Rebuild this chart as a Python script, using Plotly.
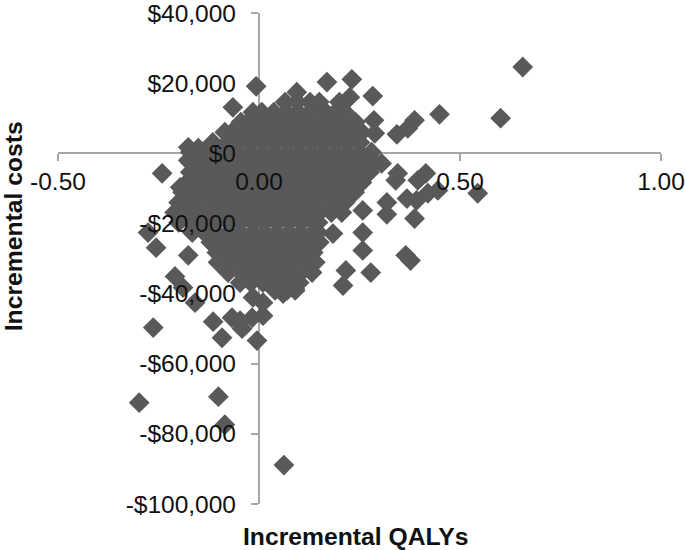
import plotly.graph_objects as go

x_tick_values = [-0.5, 0, 0.5, 1.0]
x_tick_labels = ["-0.50", "0.00", "0.50", "1.00"]
y_tick_values = [40000, 20000, 0, -20000, -40000, -60000, -80000, -100000]
y_tick_labels = ["$40,000", "$20,000", "$0", "-$20,000", "-$40,000", "-$60,000", "-$80,000", "-$100,000"]

# outlying simulations, read one by one
outlier_qalys = [0.656, 0.601, 0.449, 0.387, 0.370, 0.343, 0.169, 0.231, 0.283, 0.226, 0.286, 0.288,
                 0.305, 0.345, 0.340, 0.415, 0.395, 0.445, 0.420, 0.392, 0.368, 0.544, 0.318, 0.318,
                 0.387, 0.258, 0.258, 0.365, 0.377, 0.258, 0.184, 0.278, 0.216, 0.209,
                 -0.276, -0.256, -0.176, -0.209, -0.189, -0.159, -0.263, -0.114, -0.092, -0.005,
                 -0.067, -0.042, -0.047, -0.017, 0.010, 0.010, -0.015, 0.060, 0.089,
                 -0.007, -0.065, -0.241, -0.176, -0.151, -0.196, -0.176,
                 -0.298, -0.101, -0.085, 0.062]
outlier_costs = [24600, 10000, 11100, 9400, 7100, 5400, 20300, 21100, 16300, 16000, 9400, 5700,
                 -2900, -5700, -7700, -5700, -7700, -10600, -11400, -13400, -12900, -11400, -14000, -17400,
                 -18600, -16300, -27700, -29100, -30600, -22600, -22900, -34000, -33400, -37700,
                 -22600, -26900, -29100, -35100, -38300, -42600, -49700, -48000, -52600, -53400,
                 -46900, -50000, -47700, -46900, -46300, -42600, -41100, -40000, -38600,
                 19100, 13100, -5700, 1700, 1500, -9700, -2000,
                 -71100, -69400, -77400, -88900]

# dense central cloud of simulations, listed band by band of cost
cloud_band_costs = [17400, 14600, 11700, 8900, 6000, 3100, 300, -2600, -5400, -8300, -11100,
                    -14000, -16900, -19700, -22600, -25400, -28300, -31100, -34000, -36900, -39100]
cloud_band_qalys = [
    [0.094],
    [0.065, 0.095, 0.127, 0.150, 0.200],
    [-0.015, 0.007, 0.037, 0.067, 0.097, 0.127, 0.166, 0.190, 0.214],
    [-0.045, -0.027, 0.003, 0.033, 0.063, 0.093, 0.123, 0.153, 0.183, 0.213, 0.240],
    [-0.085, -0.067, -0.037, -0.007, 0.023, 0.053, 0.083, 0.113, 0.143, 0.173, 0.203, 0.233, 0.256],
    [-0.115, -0.079, -0.049, -0.019, 0.011, 0.041, 0.071, 0.101, 0.131, 0.161, 0.191, 0.221, 0.251],
    [-0.171, -0.141, -0.111, -0.081, -0.051, -0.021, 0.009, 0.039, 0.069, 0.099, 0.129, 0.159, 0.189, 0.219, 0.249, 0.280],
    [-0.171, -0.151, -0.121, -0.091, -0.061, -0.031, -0.001, 0.029, 0.059, 0.089, 0.119, 0.149, 0.179, 0.209, 0.239, 0.269, 0.288],
    [-0.171, -0.136, -0.106, -0.076, -0.046, -0.016, 0.014, 0.044, 0.074, 0.104, 0.134, 0.164, 0.194, 0.224, 0.254, 0.275],
    [-0.179, -0.149, -0.119, -0.089, -0.059, -0.029, 0.001, 0.031, 0.061, 0.091, 0.121, 0.151, 0.181, 0.211, 0.241, 0.256],
    [-0.190, -0.160, -0.130, -0.100, -0.070, -0.040, -0.010, 0.020, 0.050, 0.080, 0.110, 0.140, 0.170, 0.200, 0.230, 0.238],
    [-0.200, -0.175, -0.145, -0.115, -0.085, -0.055, -0.025, 0.005, 0.035, 0.065, 0.095, 0.125, 0.155, 0.185, 0.214],
    [-0.210, -0.180, -0.150, -0.120, -0.090, -0.060, -0.030, 0.000, 0.030, 0.060, 0.090, 0.120, 0.150, 0.180, 0.206],
    [-0.200, -0.165, -0.135, -0.105, -0.075, -0.045, -0.015, 0.015, 0.045, 0.075, 0.105, 0.135, 0.147],
    [-0.166, -0.136, -0.106, -0.076, -0.046, -0.016, 0.014, 0.044, 0.074, 0.104, 0.134, 0.147],
    [-0.120, -0.090, -0.060, -0.030, 0.000, 0.030, 0.060, 0.090, 0.120, 0.150],
    [-0.105, -0.075, -0.045, -0.015, 0.015, 0.045, 0.075, 0.105, 0.135],
    [-0.102, -0.070, -0.040, -0.010, 0.020, 0.050, 0.080, 0.110, 0.140],
    [-0.077, -0.045, -0.015, 0.015, 0.045, 0.075, 0.105, 0.132],
    [-0.047, -0.020, 0.010, 0.040, 0.070, 0.100],
    [0.040, 0.070, 0.090],
]

cloud_qalys = [q for band in cloud_band_qalys for q in band]
cloud_costs = [c for c, band in zip(cloud_band_costs, cloud_band_qalys) for _ in band]

AXIS = "#A6A6A6"
MARK = "#595959"
TXT = "#111111"
FONT = "Liberation Sans, Arial, sans-serif"

fig = go.Figure()
fig.add_trace(go.Scatter(
    x=outlier_qalys + cloud_qalys, y=outlier_costs + cloud_costs, mode="markers",
    marker=dict(symbol="diamond", size=16, color=MARK, line=dict(width=0)),
    hoverinfo="skip", showlegend=False))
# label-only overlay axes keep the tick text above the markers
fig.add_trace(go.Scatter(x=[None], y=[None], xaxis="x2", yaxis="y2", mode="markers",
                         hoverinfo="skip", showlegend=False))

fig.update_layout(
    width=685, height=550, autosize=False,
    paper_bgcolor="white", plot_bgcolor="white",
    margin=dict(l=57.5, r=24, t=13, b=46, autoexpand=False),
    showlegend=False,
    font=dict(family=FONT, color=TXT, size=24),
    xaxis=dict(range=[-0.5, 1.0], anchor="free", position=100000 / 140000, layer="below traces",
               showgrid=False, zeroline=False, showline=True, linecolor=AXIS, linewidth=1.5,
               ticks="outside", ticklen=7, tickcolor=AXIS, tickwidth=1.5,
               tickvals=x_tick_values, showticklabels=False),
    yaxis=dict(range=[-100000, 40000], anchor="free", position=1 / 3, layer="below traces",
               showgrid=False, zeroline=False, showline=True, linecolor=AXIS, linewidth=1.5,
               ticks="outside", ticklen=7, tickcolor=AXIS, tickwidth=1.5,
               tickvals=y_tick_values, showticklabels=False),
    xaxis2=dict(range=[-0.5, 1.0], overlaying="x", anchor="free", position=100000 / 140000,
                showgrid=False, zeroline=False, showline=False, ticks="",
                tickmode="array", tickvals=x_tick_values, ticktext=x_tick_labels,
                ticklabeloverflow="allow",
                ticklabelstandoff=11, tickfont=dict(size=24.5, family=FONT, color=TXT)),
    yaxis2=dict(range=[-100000, 40000], overlaying="y", anchor="free", position=1 / 3,
                showgrid=False, zeroline=False, showline=False, ticks="",
                tickmode="array", tickvals=y_tick_values, ticktext=y_tick_labels,
                ticklabeloverflow="allow",
                ticklabelstandoff=23, tickfont=dict(size=24.5, family=FONT, color=TXT)),
    annotations=[
        dict(text="<b>Incremental QALYs</b>", xref="paper", yref="paper", x=0.493, y=-0.066,
             xanchor="center", yanchor="middle", showarrow=False, borderpad=0,
             font=dict(size=24.7, family=FONT, color=TXT)),
        dict(text="<b>Incremental costs</b>", xref="paper", yref="paper", x=-0.0735, y=0.565,
             textangle=-90, xanchor="center", yanchor="middle", showarrow=False, borderpad=0,
             font=dict(size=24.7, family=FONT, color=TXT)),
    ],
)
fig.write_html("out.html", config={"displayModeBar": False},
               post_script="document.body.style.margin='0';document.documentElement.style.overflow='hidden';")
